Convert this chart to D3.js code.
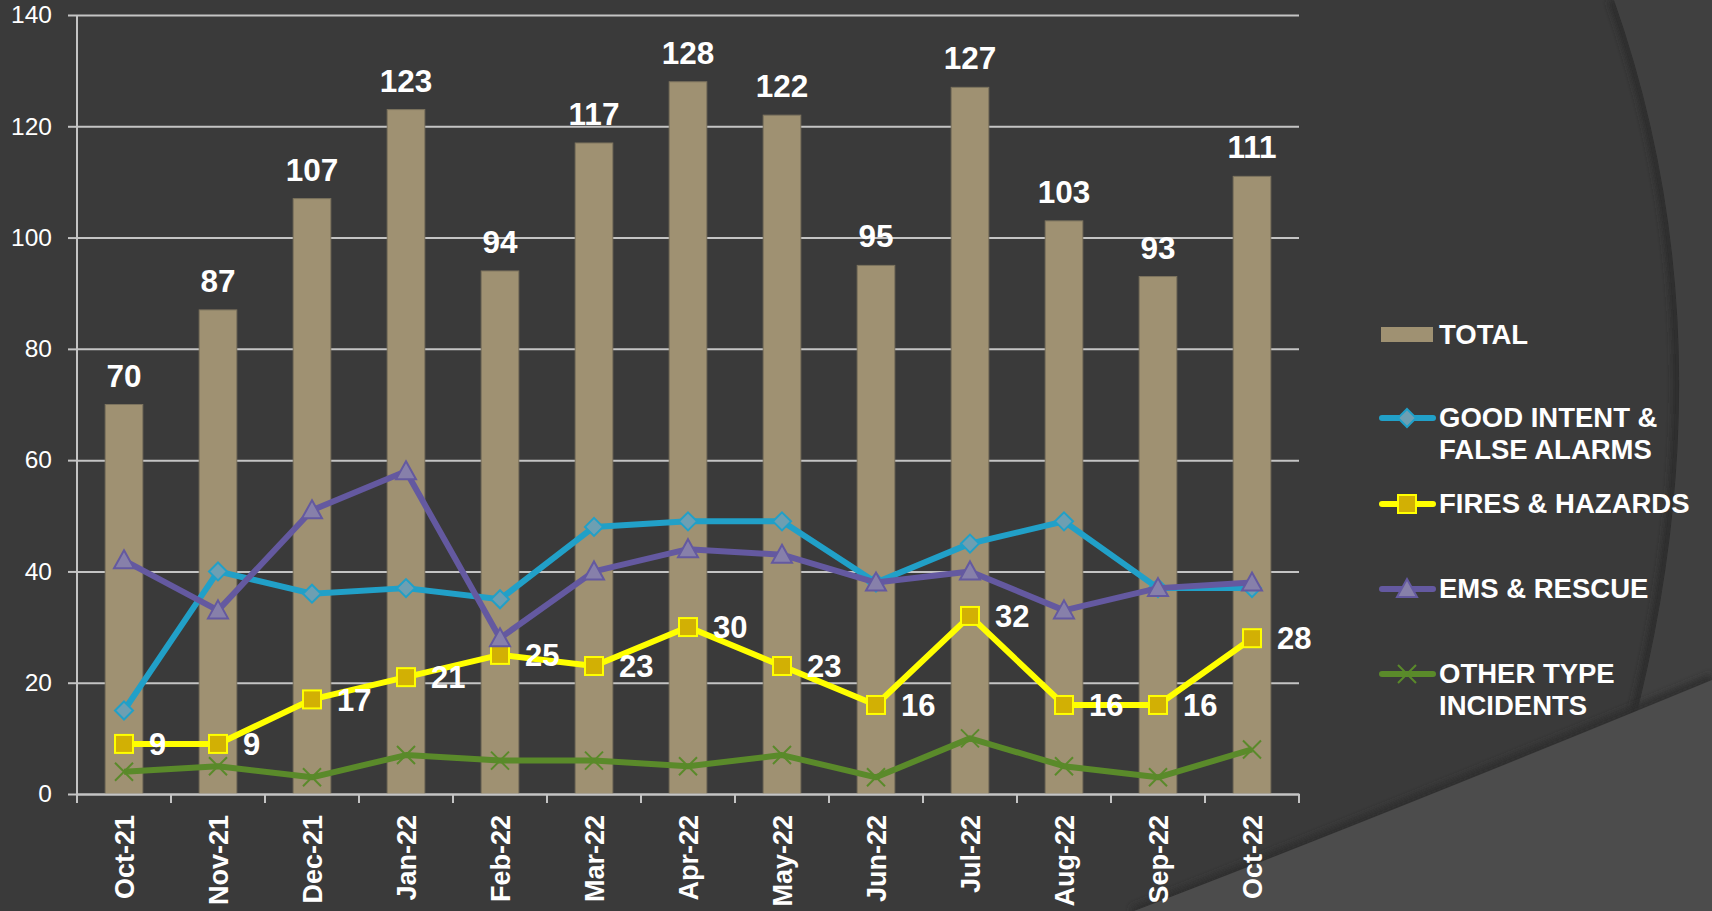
<!DOCTYPE html>
<html>
<head>
<meta charset="utf-8">
<script src="https://cdn.jsdelivr.net/npm/d3@7"></script>
<style>
  body { margin: 0; background: #3a3a3a; overflow: hidden; }
  svg text { font-family: "Liberation Sans", Arial, sans-serif; }
</style>
</head>
<body>
<div id="chart"></div>
<script>
const width = 1712;
const height = 911;
const margins = { top: 15, left: 77, bottom: 117, right: 413 };

// data
const months = ["Oct-21", "Nov-21", "Dec-21", "Jan-22", "Feb-22", "Mar-22", "Apr-22",
                "May-22", "Jun-22", "Jul-22", "Aug-22", "Sep-22", "Oct-22"];
const total = [70, 87, 107, 123, 94, 117, 128, 122, 95, 127, 103, 93, 111];
const goodIntent = [15, 40, 36, 37, 35, 48, 49, 49, 38, 45, 49, 37, 37];
const fires = [9, 9, 17, 21, 25, 23, 30, 23, 16, 32, 16, 16, 28];
const ems = [42, 33, 51, 58, 28, 40, 44, 43, 38, 40, 33, 37, 38];
const other = [4, 5, 3, 7, 6, 6, 5, 7, 3, 10, 5, 3, 8];
const yTicks = [0, 20, 40, 60, 80, 100, 120, 140];

const legendNames = ["TOTAL", "GOOD INTENT &|FALSE ALARMS", "FIRES & HAZARDS", "EMS & RESCUE", "OTHER TYPE|INCIDENTS"];

const series = [
    { values: goodIntent, color: "#21a0c8", marker: "diamond", fill: "#6d9fb2" },
    { values: fires, color: "#ffff00", marker: "square", fill: "#d2b004" },
    { values: ems, color: "#6459a0", marker: "triangle", fill: "#8780aa" },
    { values: other, color: "#5a8a2a", marker: "cross", fill: "none" }
];

const svg = d3.select("#chart")
    .append("svg")
    .attr("width", width)
    .attr("height", height);

// background shapes
svg.append("rect").attr("width", width).attr("height", height).attr("fill", "#3a3a3a");
const defs = svg.append("defs");
defs.append("filter").attr("id", "soft")
    .append("feGaussianBlur").attr("stdDeviation", 3);
svg.append("path")
    .attr("d", "M1612,0 Q1760,420 1572,911")
    .attr("fill", "none").attr("stroke", "#2c2c2c").attr("stroke-width", 8)
    .attr("filter", "url(#soft)");
svg.append("path")
    .attr("d", "M1614,0 Q1762,420 1574,911 L1712,911 L1712,0 Z")
    .attr("fill", "#404040");
svg.append("path")
    .attr("d", "M1132,911 Q1370,818 1712,678")
    .attr("fill", "none").attr("stroke", "#2e2e2e").attr("stroke-width", 8)
    .attr("filter", "url(#soft)");
svg.append("path")
    .attr("d", "M1134,911 Q1372,820 1712,680 L1712,911 Z")
    .attr("fill", "#4c4c4c");

const plotW = width - margins.left - margins.right;
const plotH = height - margins.top - margins.bottom;

const g = svg.append("g").attr("transform", `translate(${margins.left},${margins.top})`);

const x = d3.scaleBand().domain(months).range([0, plotW]).padding(0);
const y = d3.scaleLinear().domain([0, 140]).range([plotH, 0]);
const bw = x.bandwidth();
const cx = (d) => x(d) + bw / 2;

// grid
g.append("g")
    .attr("class", "grid")
    .call(d3.axisLeft(y).tickValues(yTicks).tickSize(-plotW).tickFormat(""))
    .call(s => s.select(".domain").remove())
    .selectAll("line").attr("stroke", "#c4c4c4").attr("stroke-width", 2);

// y axis
g.append("g")
    .call(d3.axisLeft(y).tickValues(yTicks).tickSize(9).tickPadding(16))
    .call(s => s.select(".domain").attr("stroke", "#c4c4c4").attr("stroke-width", 2).attr("d", `M0,0V${plotH}`))
    .call(s => s.selectAll("line").attr("stroke", "#c4c4c4").attr("stroke-width", 2))
    .call(s => s.selectAll("text").attr("fill", "#ffffff").style("font-size", "24.5px")
        .style("font-family", '"Liberation Sans", Arial, sans-serif'));

// bars
g.selectAll(".bar").data(total)
    .enter()
    .append("rect")
    .attr("class", "bar")
    .attr("x", (d, i) => cx(months[i]) - bw * 0.2)
    .attr("width", bw * 0.4)
    .attr("y", d => y(d))
    .attr("height", d => plotH - y(d))
    .attr("fill", "#9f9172")
    .attr("stroke", "#7c735e")
    .attr("stroke-width", 1);

// x axis
g.append("g")
    .attr("transform", `translate(0,${plotH})`)
    .call(d3.axisBottom(x).tickSize(0).tickPadding(0))
    .call(s => s.select(".domain").attr("stroke", "#c4c4c4").attr("stroke-width", 2))
    .call(s => s.selectAll("text")
        .attr("fill", "#ffffff")
        .style("font-size", "27px")
        .style("font-weight", "bold")
        .style("font-family", '"Liberation Sans", Arial, sans-serif')
        .attr("text-anchor", "end")
        .attr("y", 0)
        .attr("dy", "0.36em")
        .attr("transform", "translate(0,21) rotate(-90)"));

g.append("g").selectAll("line")
    .data(months.concat(["end"]))
    .enter()
    .append("line")
    .attr("x1", (d, i) => i < months.length ? x(d) : plotW)
    .attr("x2", (d, i) => i < months.length ? x(d) : plotW)
    .attr("y1", plotH)
    .attr("y2", plotH + 9)
    .attr("stroke", "#c4c4c4")
    .attr("stroke-width", 2);

// total labels
g.selectAll(".total-label").data(total)
    .enter()
    .append("text")
    .attr("x", (d, i) => cx(months[i]))
    .attr("y", d => y(d) - 18)
    .attr("text-anchor", "middle")
    .attr("fill", "#ffffff")
    .style("font-size", "31.5px")
    .style("font-weight", "bold")
    .text(d => d);

// markers
function drawMarker(sel, type, color, fill) {
    if (type === "diamond") {
        sel.append("path").attr("d", "M0,-9L9,0L0,9L-9,0Z")
            .attr("fill", fill).attr("stroke", color).attr("stroke-width", 2);
    } else if (type === "square") {
        sel.append("rect").attr("x", -9).attr("y", -9).attr("width", 18).attr("height", 18)
            .attr("fill", fill).attr("stroke", color).attr("stroke-width", 2);
    } else if (type === "triangle") {
        sel.append("path").attr("d", "M0,-10L10,8L-10,8Z")
            .attr("fill", fill).attr("stroke", color).attr("stroke-width", 2);
    } else {
        sel.append("path").attr("d", "M-9,-9L9,9M-9,9L9,-9")
            .attr("fill", "none").attr("stroke", color).attr("stroke-width", 2);
    }
}

const line = d3.line()
    .x((d, i) => cx(months[i]))
    .y(d => y(d));

series.forEach((s) => {
    g.append("path")
        .datum(s.values)
        .attr("d", line)
        .attr("fill", "none")
        .attr("stroke", s.color)
        .attr("stroke-width", 6)
        .attr("stroke-linejoin", "round");
    g.append("g").selectAll("g")
        .data(s.values)
        .enter()
        .append("g")
        .attr("transform", (d, i) => `translate(${cx(months[i])},${y(d)})`)
        .each(function () { drawMarker(d3.select(this), s.marker, s.color, s.fill); });
});

// fires labels
g.selectAll(".fire-label").data(fires)
    .enter()
    .append("text")
    .attr("x", (d, i) => cx(months[i]) + 25)
    .attr("y", d => y(d))
    .attr("dy", "0.36em")
    .attr("fill", "#ffffff")
    .style("font-size", "31px")
    .style("font-weight", "bold")
    .text(d => d);

// legend
const legendY = [335, 418, 504, 589, 674];
const legend = svg.append("g").attr("class", "legend");

legendNames.forEach((name, i) => {
    const item = legend.append("g").attr("transform", `translate(1380,${legendY[i]})`);
    if (i === 0) {
        item.append("rect").attr("x", 1).attr("y", -8).attr("width", 52).attr("height", 15)
            .attr("fill", "#9f9172");
    } else {
        const s = series[i - 1];
        item.append("line").attr("x1", 2).attr("x2", 53).attr("y1", 0).attr("y2", 0)
            .attr("stroke", s.color).attr("stroke-width", 6).attr("stroke-linecap", "round");
        drawMarker(item.append("g").attr("transform", "translate(27,0)"), s.marker, s.color, s.fill);
    }
    const lines = name.split("|");
    const t = item.append("text")
        .attr("x", 59)
        .attr("y", 9)
        .attr("fill", "#ffffff")
        .style("font-size", "27.5px")
        .style("font-weight", "bold");
    lines.forEach((l, j) => {
        t.append("tspan").attr("x", 59).attr("dy", j === 0 ? 0 : 32).text(l);
    });
});
</script>
</body>
</html>
